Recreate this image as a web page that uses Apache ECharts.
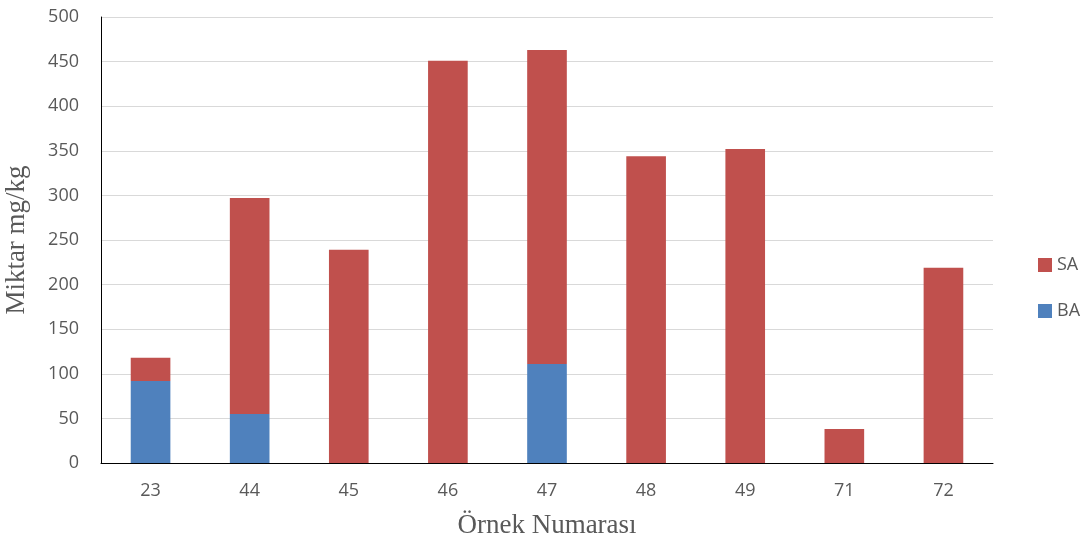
<!DOCTYPE html>
<html>
<head>
<meta charset="utf-8">
<script src="https://cdn.jsdelivr.net/npm/echarts@6/dist/echarts.min.js"></script>
<style>
  html, body { margin: 0; padding: 0; background: #fff; }
  #chart { width: 1092px; height: 552px; }
</style>
</head>
<body>
<div id="chart"></div>
<script>
// Sample numbers on the category axis
const categories = ['23', '44', '45', '46', '47', '48', '49', '71', '72'];
// BA amount (mg/kg), bottom segment of each stack
const baValues = [92, 55, 0, 0, 111, 0, 0, 0, 0];
// SA amount (mg/kg), stacked on top of BA
const saValues = [26, 242, 239, 451, 352, 344, 352, 38, 219];

const labelColor = '#595959';
const chart = echarts.init(document.getElementById('chart'));

chart.setOption({
  animation: false,
  backgroundColor: '#ffffff',
  grid: {
    left: 101, right: 99, top: 17, bottom: 89,
    containLabel: false,
    outerBoundsMode: 'none'
  },
  legend: {
    orient: 'vertical',
    left: 1033,
    top: 251,
    itemWidth: 14,
    itemHeight: 14,
    itemGap: 28,
    icon: 'rect',
    data: ['SA', 'BA'],
    textStyle: { color: labelColor, fontSize: 18, lineHeight: 18, fontFamily: 'Open Sans' }
  },
  xAxis: {
    type: 'category',
    data: categories,
    name: 'Örnek Numarası',
    nameLocation: 'middle',
    nameGap: 49,
    nameTextStyle: { color: labelColor, fontSize: 27, fontFamily: 'Liberation Serif' },
    axisLine: { lineStyle: { color: '#000000', width: 1 } },
    axisTick: { show: false },
    axisLabel: { color: labelColor, fontSize: 18, fontFamily: 'Open Sans', margin: 19 }
  },
  yAxis: {
    type: 'value',
    min: 0,
    max: 500,
    interval: 50,
    name: 'Miktar mg/kg',
    nameLocation: 'middle',
    nameGap: 71,
    nameTextStyle: { color: labelColor, fontSize: 27, fontFamily: 'Liberation Serif' },
    axisLine: { show: true, lineStyle: { color: '#000000', width: 1 } },
    axisTick: { show: false },
    axisLabel: { color: labelColor, fontSize: 18, fontFamily: 'Open Sans', margin: 22 },
    splitLine: { lineStyle: { color: '#d9d9d9', width: 1 } }
  },
  series: [
    {
      name: 'BA',
      type: 'bar',
      stack: 'total',
      barWidth: '40%',
      data: baValues,
      itemStyle: { color: '#4f81bd' }
    },
    {
      name: 'SA',
      type: 'bar',
      stack: 'total',
      barWidth: '40%',
      data: saValues,
      itemStyle: { color: '#c0504d' }
    }
  ]
});
</script>
</body>
</html>
